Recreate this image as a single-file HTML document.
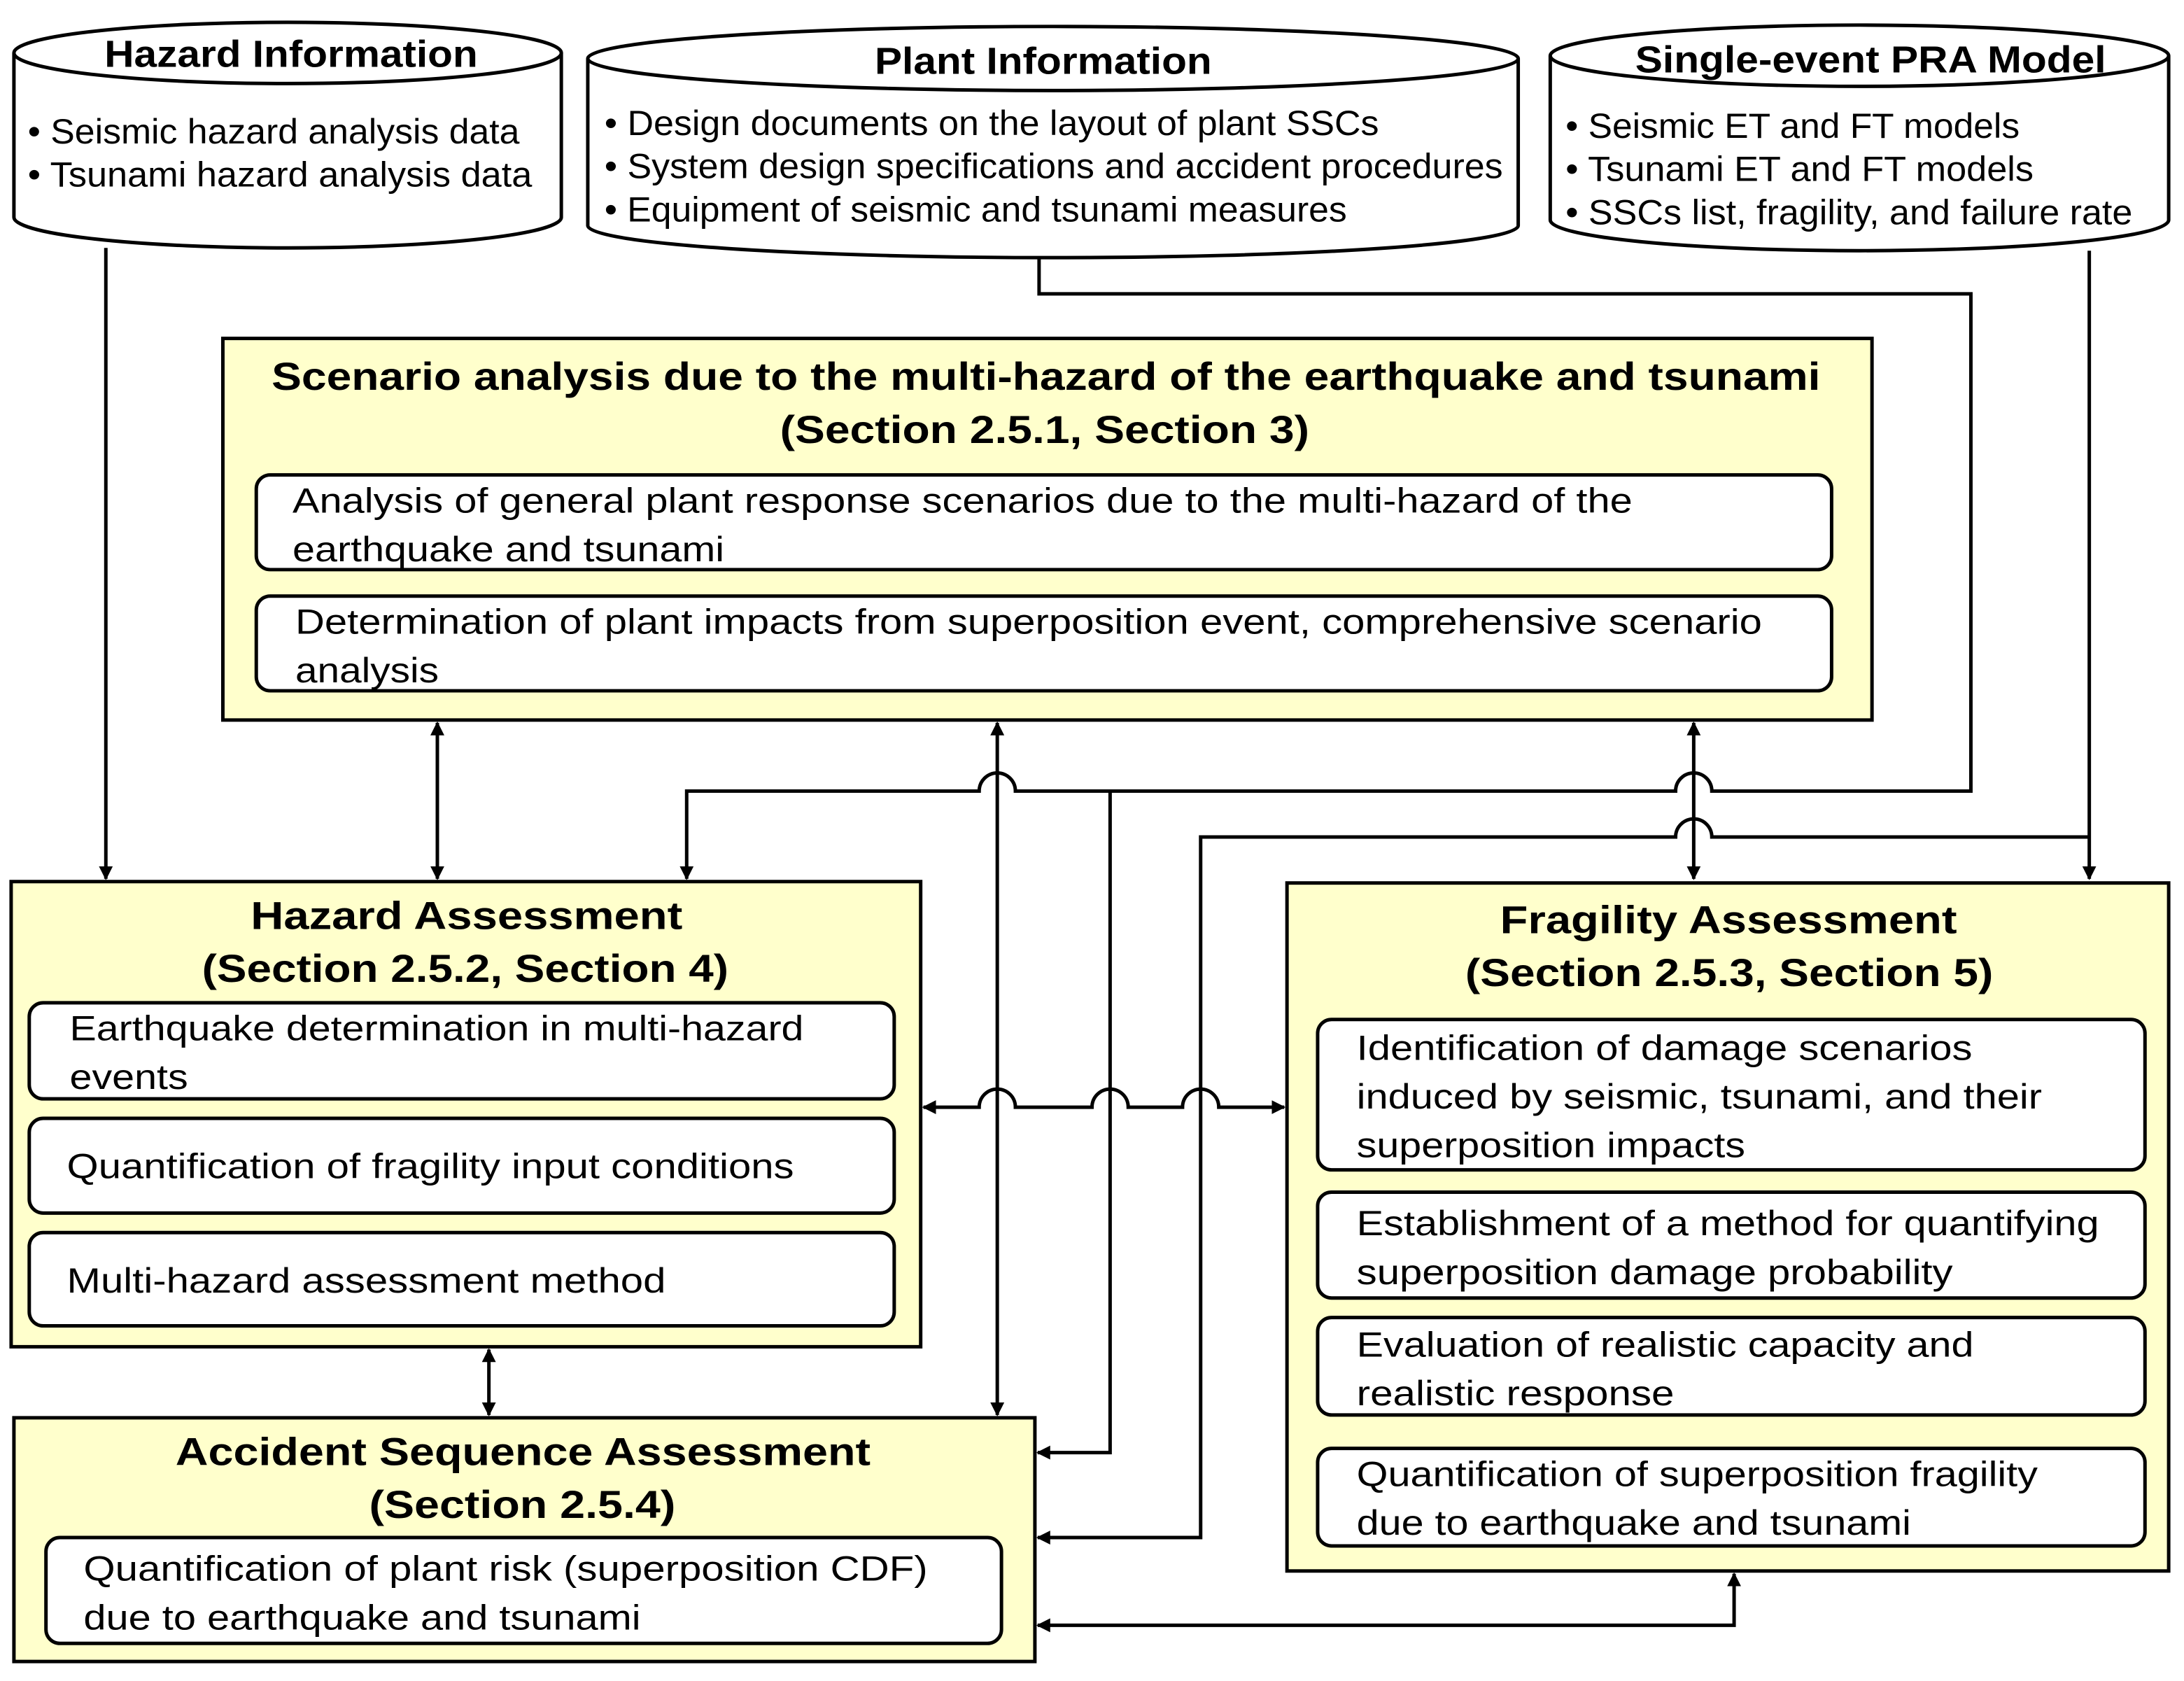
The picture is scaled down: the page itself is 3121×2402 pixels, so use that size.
<!DOCTYPE html>
<html><head><meta charset="utf-8"><style>
html,body{margin:0;padding:0;background:#fff}
svg{display:block}
text{font-family:"Liberation Sans",Arial,sans-serif;fill:#000}
.t{font-size:25px}
.b{font-weight:bold}
</style></head><body>
<svg width="3121" height="2402" viewBox="0 0 1568 1207" preserveAspectRatio="none" xmlns="http://www.w3.org/2000/svg">
<defs>
<marker id="a" markerWidth="10" markerHeight="10" refX="9" refY="5" orient="auto-start-reverse" markerUnits="userSpaceOnUse" viewBox="0 0 10 10">
<path d="M0,0 L10,5 L0,10 z" fill="#000"/></marker>
</defs>
<g stroke="#000" stroke-width="2.5" fill="#fff">
<path d="M10,38 V156 A196.5,22 0 0 0 403,156 V38"/>
<ellipse cx="206.5" cy="38" rx="196.5" ry="22"/>
<path d="M422,42 V162 A334,23 0 0 0 1090,162 V42"/>
<ellipse cx="756" cy="42" rx="334" ry="23"/>
<path d="M1113,40 V158 A222,22 0 0 0 1557,158 V40"/>
<ellipse cx="1335" cy="40" rx="222" ry="22"/>
</g>
<g lengthAdjust="spacingAndGlyphs">
<text x="75" y="48" class="b" font-size="27" textLength="268" lengthAdjust="spacingAndGlyphs">Hazard Information</text>
<text x="20" y="103" class="t" textLength="353" lengthAdjust="spacingAndGlyphs">• Seismic hazard analysis data</text>
<text x="20" y="134" class="t" textLength="362" lengthAdjust="spacingAndGlyphs">• Tsunami  hazard analysis data</text>
<text x="628" y="53" class="b" font-size="27" textLength="242" lengthAdjust="spacingAndGlyphs">Plant Information</text>
<text x="434" y="97" class="t" textLength="556" lengthAdjust="spacingAndGlyphs">• Design documents on the layout of plant SSCs</text>
<text x="434" y="128" class="t" textLength="645" lengthAdjust="spacingAndGlyphs">• System design specifications and accident procedures</text>
<text x="434" y="159" class="t" textLength="533" lengthAdjust="spacingAndGlyphs">• Equipment of seismic and tsunami measures</text>
<text x="1174" y="52" class="b" font-size="27" textLength="338" lengthAdjust="spacingAndGlyphs">Single-event PRA Model</text>
<text x="1124" y="99" class="t" textLength="326" lengthAdjust="spacingAndGlyphs">• Seismic ET and FT models</text>
<text x="1124" y="130" class="t" textLength="336" lengthAdjust="spacingAndGlyphs">• Tsunami  ET and FT models</text>
<text x="1124" y="161" class="t" textLength="407" lengthAdjust="spacingAndGlyphs">• SSCs list, fragility, and failure rate</text>
</g>

<g stroke="#000" stroke-width="2.5" fill="#ffffcc">
<rect x="160" y="243" width="1184" height="274"/>
<rect x="8" y="633" width="653" height="334"/>
<rect x="10" y="1018" width="733" height="175"/>
<rect x="924" y="634" width="633" height="494"/>
</g>
<g stroke="#000" stroke-width="2.5" fill="#fff">
<rect x="184" y="341" width="1131" height="68" rx="10"/>
<rect x="184" y="428" width="1131" height="68" rx="10"/>
<rect x="21" y="720" width="621" height="69" rx="10"/>
<rect x="21" y="803" width="621" height="68" rx="10"/>
<rect x="21" y="885" width="621" height="67" rx="10"/>
<rect x="33" y="1104" width="686" height="76" rx="10"/>
<rect x="946" y="732" width="594" height="108" rx="10"/>
<rect x="946" y="856" width="594" height="76" rx="10"/>
<rect x="946" y="946" width="594" height="70" rx="10"/>
<rect x="946" y="1040" width="594" height="70" rx="10"/>
</g>
<text x="195" y="280" class="b" font-size="28" textLength="1112" lengthAdjust="spacingAndGlyphs">Scenario analysis due to the multi-hazard of the earthquake and tsunami</text>
<text x="560" y="318" class="b" font-size="28" textLength="380" lengthAdjust="spacingAndGlyphs">(Section 2.5.1, Section 3)</text>
<text x="210" y="368" class="t" textLength="962" lengthAdjust="spacingAndGlyphs">Analysis of general plant response scenarios due to the multi-hazard of the</text>
<text x="210" y="403" class="t" textLength="310" lengthAdjust="spacingAndGlyphs">earthquake and tsunami</text>
<text x="212" y="455" class="t" textLength="1053" lengthAdjust="spacingAndGlyphs">Determination of plant impacts from superposition event, comprehensive scenario</text>
<text x="212" y="490" class="t" textLength="103" lengthAdjust="spacingAndGlyphs">analysis</text>

<text x="180" y="667" class="b" font-size="28" textLength="310" lengthAdjust="spacingAndGlyphs">Hazard Assessment</text>
<text x="145" y="705" class="b" font-size="28" textLength="378" lengthAdjust="spacingAndGlyphs">(Section 2.5.2, Section 4)</text>
<text x="50" y="747" class="t" textLength="527" lengthAdjust="spacingAndGlyphs">Earthquake determination in multi-hazard</text>
<text x="50" y="782" class="t" textLength="85" lengthAdjust="spacingAndGlyphs">events</text>
<text x="48" y="846" class="t" textLength="522" lengthAdjust="spacingAndGlyphs">Quantification of fragility input conditions</text>
<text x="48" y="928" class="t" textLength="430" lengthAdjust="spacingAndGlyphs">Multi-hazard  assessment method</text>

<text x="126" y="1052" class="b" font-size="28" textLength="499" lengthAdjust="spacingAndGlyphs">Accident Sequence Assessment</text>
<text x="265" y="1090" class="b" font-size="28" textLength="220" lengthAdjust="spacingAndGlyphs">(Section 2.5.4)</text>
<text x="60" y="1135" class="t" textLength="606" lengthAdjust="spacingAndGlyphs">Quantification of plant risk (superposition CDF)</text>
<text x="60" y="1170" class="t" textLength="400" lengthAdjust="spacingAndGlyphs">due to earthquake and tsunami</text>

<text x="1077" y="670" class="b" font-size="28" textLength="328" lengthAdjust="spacingAndGlyphs">Fragility Assessment</text>
<text x="1052" y="708" class="b" font-size="28" textLength="379" lengthAdjust="spacingAndGlyphs">(Section 2.5.3, Section 5)</text>
<text x="974" y="761" class="t" textLength="442" lengthAdjust="spacingAndGlyphs">Identification of damage scenarios</text>
<text x="974" y="796" class="t" textLength="492" lengthAdjust="spacingAndGlyphs">induced by seismic, tsunami, and their</text>
<text x="974" y="831" class="t" textLength="279" lengthAdjust="spacingAndGlyphs">superposition impacts</text>
<text x="974" y="887" class="t" textLength="533" lengthAdjust="spacingAndGlyphs">Establishment of a method for quantifying</text>
<text x="974" y="922" class="t" textLength="428" lengthAdjust="spacingAndGlyphs">superposition damage probability</text>
<text x="974" y="974" class="t" textLength="443" lengthAdjust="spacingAndGlyphs">Evaluation of realistic capacity and</text>
<text x="974" y="1009" class="t" textLength="228" lengthAdjust="spacingAndGlyphs">realistic response</text>
<text x="974" y="1067" class="t" textLength="489" lengthAdjust="spacingAndGlyphs">Quantification of superposition fragility</text>
<text x="974" y="1102" class="t" textLength="398" lengthAdjust="spacingAndGlyphs">due to earthquake and tsunami</text>

<g stroke="#000" stroke-width="2.5" fill="none">
<path d="M76,178 V631" marker-end="url(#a)"/>
<path d="M314,519 V631" marker-start="url(#a)" marker-end="url(#a)"/>
<path d="M716,519 V1016" marker-start="url(#a)" marker-end="url(#a)"/>
<path d="M1216,519 V631" marker-start="url(#a)" marker-end="url(#a)"/>
<path d="M351,969 V1016" marker-start="url(#a)" marker-end="url(#a)"/>
<path d="M746,185 V211 H1415 V568 H1229 A13,13 0 0 0 1203,568 H729 A13,13 0 0 0 703,568 H493 V631" marker-end="url(#a)"/>
<path d="M797,568 V1043 H745" marker-end="url(#a)"/>
<path d="M1500,180 V631" marker-end="url(#a)"/>
<path d="M1500,601 H1229 A13,13 0 0 0 1203,601 H862 V1104 H745" marker-end="url(#a)"/>
<path d="M663,795 H703 A13,13 0 0 1 729,795 H784 A13,13 0 0 1 810,795 H849 A13,13 0 0 1 875,795 H922" marker-start="url(#a)" marker-end="url(#a)"/>
<path d="M1245,1130 V1167 H745" marker-start="url(#a)" marker-end="url(#a)"/>
</g>
</svg>
</body></html>
